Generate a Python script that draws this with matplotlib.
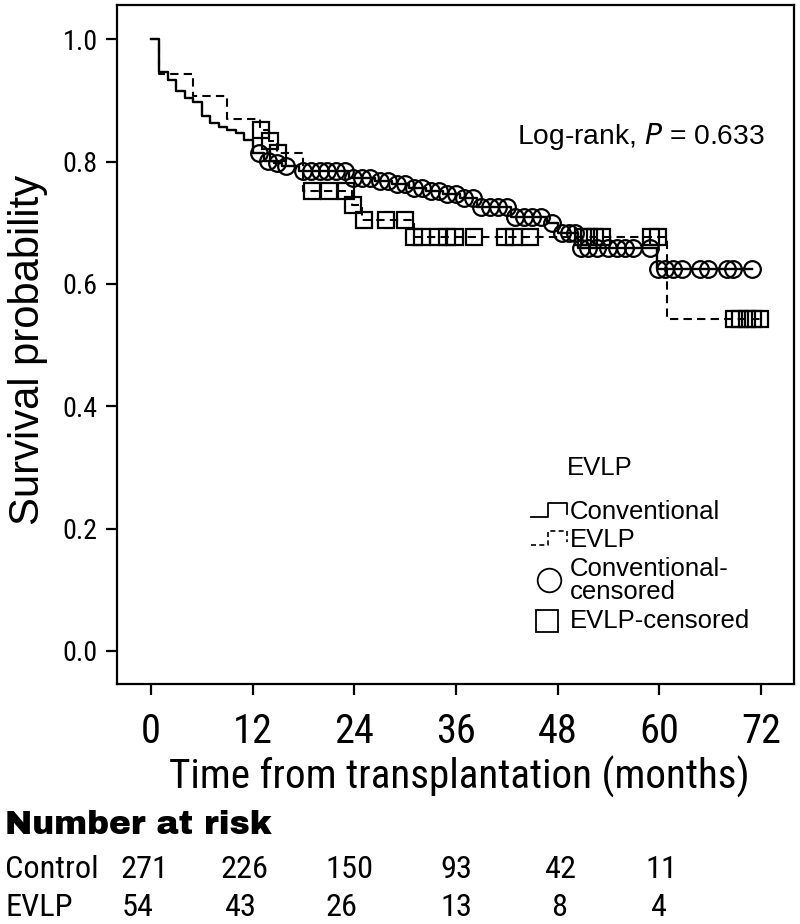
import numpy as np
import matplotlib
matplotlib.use('Agg')
import matplotlib.pyplot as plt
from matplotlib.transforms import blended_transform_factory

# ---------------- data ----------------
conv_event_t = [0, 1.0, 2.0, 3.0, 4.0, 5.0, 6.0, 7.0, 8.0, 9.0, 10.0, 11.0, 12.0,
                13.3, 14.5, 15.5, 17.5, 23.4, 26.5, 28.5, 30.5, 32.5, 34.5, 36.5,
                38.5, 42.5, 46.8, 48.0, 50.4, 59.7]
conv_event_s = [1.0, 0.947, 0.933, 0.915, 0.904, 0.897, 0.874, 0.863, 0.856, 0.851,
                0.846, 0.836, 0.814, 0.801, 0.797, 0.793, 0.785, 0.773, 0.769, 0.763,
                0.757, 0.752, 0.747, 0.740, 0.726, 0.710, 0.699, 0.683, 0.658, 0.625]
conv_cens_t = [12.7, 13.8, 14.9, 16.0, 17.9, 18.9, 19.9, 20.8, 21.8, 22.9, 23.8, 24.9,
               25.9, 27.0, 28.0, 29.0, 30.0, 31.0, 32.0, 33.0, 34.0, 35.0, 36.0, 37.0,
               38.0, 39.0, 40.0, 41.0, 42.0, 43.0, 44.0, 45.0, 46.0, 47.3, 48.5, 49.3,
               50.0, 50.8, 51.6, 52.7, 53.9, 55.0, 56.0, 56.9, 58.9, 59.9, 60.7, 61.6,
               62.7, 64.8, 65.8, 68.0, 68.7, 71.0]
conv_end = 71.0

evlp_event_t = [0, 1.0, 5.0, 9.0, 12.9, 13.9, 14.9, 18.0, 23.7, 24.9, 31.0, 60.9]
evlp_event_s = [1.0, 0.944, 0.907, 0.870, 0.852, 0.833, 0.814, 0.752, 0.729, 0.705,
                0.676, 0.542]
evlp_cens_t = [13.0, 14.0, 15.0, 19.0, 21.0, 23.0, 23.9, 25.1, 27.8, 30.0, 31.1, 32.0,
               33.9, 34.9, 35.9, 38.1, 41.8, 42.8, 44.8, 51.0, 51.7, 52.4, 53.2, 59.0,
               59.8, 68.8, 69.5, 70.3, 71.1, 71.9]
evlp_end = 71.9

risk_times = [0, 12, 24, 36, 48, 60]
risk_control = [271, 226, 150, 93, 42, 11]
risk_evlp = [54, 43, 26, 13, 8, 4]
x_ticks = [0, 12, 24, 36, 48, 60, 72]
y_ticks = [0.0, 0.2, 0.4, 0.6, 0.8, 1.0]

# layout: horizontal shift (months) of each at-risk column from its time point
risk_shift_control = [-0.8, -0.9, -0.6, 0.1, 0.3, 0.2]
risk_shift_evlp = [-1.6, -1.5, -1.5, 0.1, 0.2, -0.1]

# ---------------- fonts ----------------
REG = ['Liberation Sans', 'DejaVu Sans']
NARROW = ['Roboto Condensed', 'PT Sans Narrow', 'Archivo Narrow', 'Liberation Sans', 'DejaVu Sans']
HEAVY = ['Archivo Black', 'Roboto', 'Liberation Sans', 'DejaVu Sans']
plt.rcParams['font.family'] = REG


def surv_at(ev_t, ev_s, t):
    idx = np.searchsorted(np.asarray(ev_t), t, side='right') - 1
    return np.asarray(ev_s)[idx]


fig = plt.figure(figsize=(8.0, 9.24), dpi=100)
ax = fig.add_axes([117 / 800, 240 / 924, 677 / 800, 679 / 924])

# curves
ax.step(conv_event_t + [conv_end], conv_event_s + [conv_event_s[-1]], where='post',
        color='black', lw=1.7)
ax.step(evlp_event_t + [evlp_end], evlp_event_s + [evlp_event_s[-1]], where='post',
        color='black', lw=1.5, linestyle=(0, (4, 2.5)))

# censor marks
ax.plot(conv_cens_t, surv_at(conv_event_t, conv_event_s, conv_cens_t), 'o',
        ms=12, mfc='none', mec='black', mew=1.6, ls='none')
ax.plot(evlp_cens_t, surv_at(evlp_event_t, evlp_event_s, evlp_cens_t), 's',
        ms=11, mfc='none', mec='black', mew=1.6, ls='none')

ax.set_xlim(-4.0, 75.9)
ax.set_ylim(-0.054, 1.056)
ax.set_xticks(x_ticks)
ax.set_yticks(y_ticks)
ax.set_yticklabels([f'{v:.1f}' for v in y_ticks], family=NARROW)
ax.set_xticklabels([str(v) for v in x_ticks], family=NARROW)
ax.tick_params(direction='out', length=8, width=1.6)
ax.tick_params(axis='x', pad=12)
ax.tick_params(axis='y', pad=6)
for sp in ax.spines.values():
    sp.set_linewidth(1.6)

renderer = fig.canvas.get_renderer()


def fit(t, target, dim='w'):
    bb = t.get_window_extent(renderer)
    cur = bb.width if dim == 'w' else bb.height
    t.set_fontsize(t.get_fontsize() * target / cur)


def fit_size(text, family, target, weight='normal', size=20):
    t = fig.text(0, 0, text, family=family, fontsize=size, fontweight=weight)
    w = t.get_window_extent(renderer).width
    t.remove()
    return size * target / w


# tick label sizes fitted to the reference widths
ax.tick_params(axis='x', labelsize=fit_size('72', NARROW, 40))
ax.tick_params(axis='y', labelsize=fit_size('1.0', NARROW, 35))

# axis labels
xl = fig.text(459 / 800, 1 - 777 / 924, 'Time from transplantation (months)', fontsize=26,
              family=NARROW, ha='center', va='center')
fit(xl, 582)
yl = fig.text(28 / 800, 1 - 350 / 924, 'Survival probability', fontsize=26, family=REG,
              rotation=90, ha='center', va='center')
fit(yl, 350, 'h')

# log-rank text
lr = ax.text(0.591, 0.806, 'Log-rank, $\\it{P}$ = 0.633', transform=ax.transAxes,
             fontsize=20, ha='left', va='center')
fit(lr, 248)

# legend (manual)
leg_fs = fit_size('Conventional', REG, 150)
ax.text(0.713, 0.318, 'EVLP', transform=ax.transAxes, fontsize=leg_fs, ha='center', va='center')
gx = [0.611, 0.636, 0.636, 0.665, 0.665]
ax.plot(gx, [0.246, 0.246, 0.267, 0.267, 0.25], transform=ax.transAxes, color='black', lw=1.3)
ax.plot(gx, [0.205, 0.205, 0.225, 0.225, 0.209], transform=ax.transAxes, color='black', lw=1.2,
        linestyle=(0, (3, 2)))
ax.text(0.669, 0.253, 'Conventional', transform=ax.transAxes, fontsize=leg_fs, va='center')
ax.text(0.669, 0.212, 'EVLP', transform=ax.transAxes, fontsize=leg_fs, va='center')
ax.plot([0.638], [0.153], 'o', ms=17, mfc='none', mec='black', mew=1.3, transform=ax.transAxes)
ax.text(0.669, 0.153, 'Conventional-\ncensored', transform=ax.transAxes, fontsize=leg_fs,
        va='center', linespacing=0.95)
ax.plot([0.635], [0.093], 's', ms=16, mfc='none', mec='black', mew=1.3, transform=ax.transAxes)
ax.text(0.669, 0.093, 'EVLP-censored', transform=ax.transAxes, fontsize=leg_fs, va='center')

# number at risk table
nar = fig.text(5 / 800, 1 - 825 / 924, 'Number at risk', fontsize=20, fontweight='black',
               family=HEAVY, ha='left', va='center')
fit(nar, 267)
risk_fs = fit_size('226', NARROW, 48)
fig.text(5 / 800, 1 - 870 / 924, 'Control', fontsize=risk_fs, family=NARROW, ha='left', va='center')
fig.text(5 / 800, 1 - 907 / 924, 'EVLP', fontsize=risk_fs, family=NARROW, ha='left', va='center')
tr = blended_transform_factory(ax.transData, fig.transFigure)
for t, c, e, dc, de in zip(risk_times, risk_control, risk_evlp,
                           risk_shift_control, risk_shift_evlp):
    fig.text(t + dc, 1 - 870 / 924, str(c), transform=tr, fontsize=risk_fs, family=NARROW,
             ha='center', va='center')
    fig.text(t + de, 1 - 907 / 924, str(e), transform=tr, fontsize=risk_fs, family=NARROW,
             ha='center', va='center')

fig.savefig('out.png', dpi=100)
